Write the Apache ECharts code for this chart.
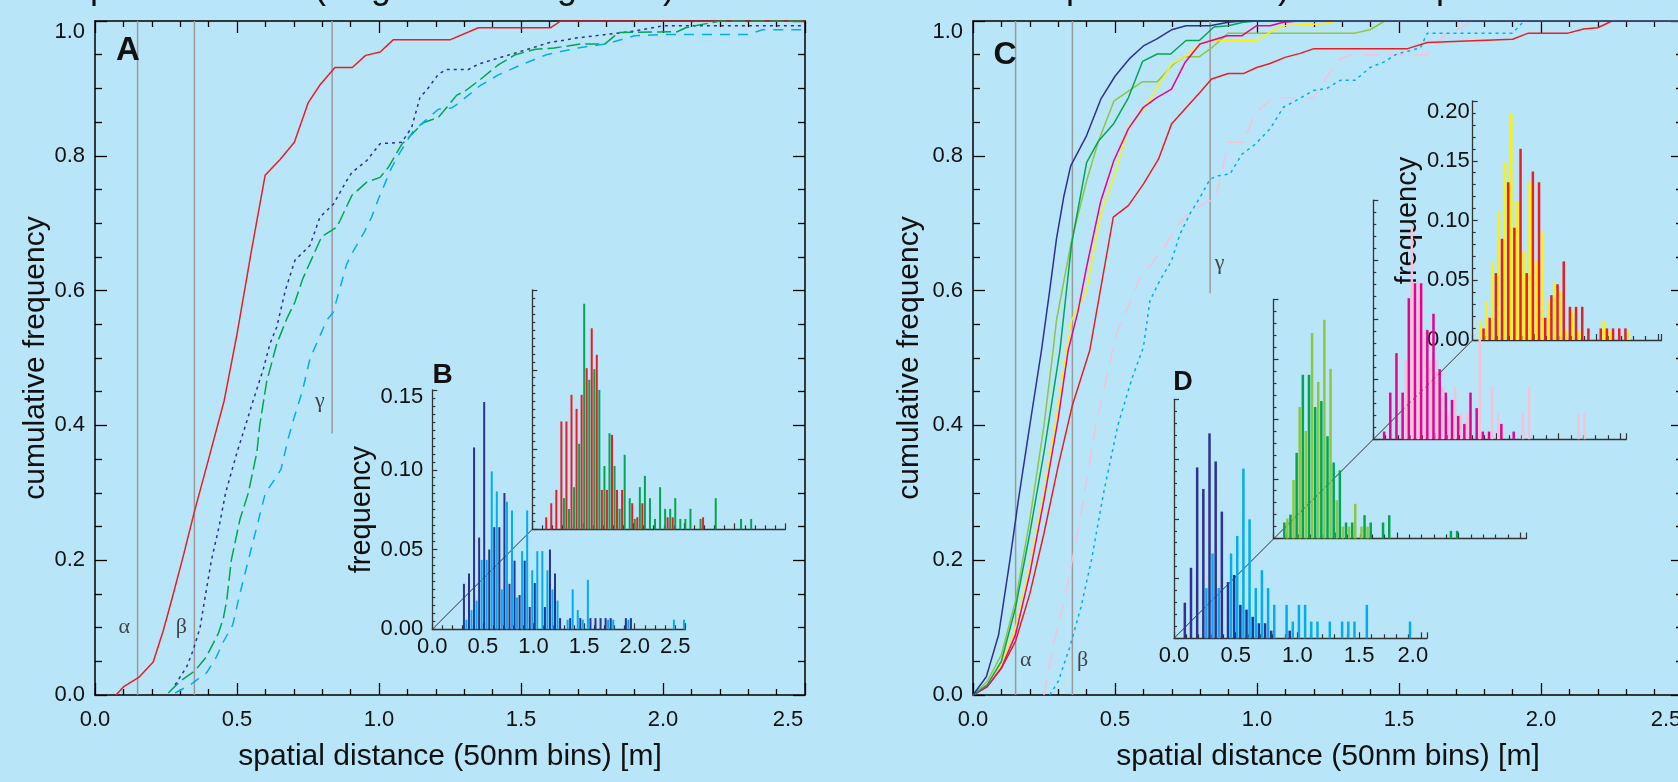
<!DOCTYPE html>
<html>
<head>
<meta charset="utf-8">
<script src="https://cdn.jsdelivr.net/npm/echarts@6/dist/echarts.min.js"></script>
<style>
html,body{margin:0;padding:0;background:#b9e5f9;}
#c{width:1678px;height:782px;}
</style>
</head>
<body>
<div id="c"></div>
<script>
// ---------------- DATA ----------------
const X_NAME = 'spatial distance (50nm bins) [m]';
const Y_NAME = 'cumulative frequency';
const INSET_Y_NAME = 'frequency';
const BIN = 0.05;

// Panel A cumulative curves [x, y]
const aRed = [[0.074,0.0],[0.10,0.012],[0.154,0.026],[0.205,0.049],[0.24,0.095],[0.27,0.141],[0.31,0.205],[0.35,0.272],[0.40,0.35],[0.455,0.437],[0.499,0.533],[0.552,0.662],[0.599,0.771],[0.651,0.794],[0.702,0.82],[0.751,0.879],[0.792,0.905],[0.845,0.931],[0.906,0.931],[0.953,0.949],[1.004,0.954],[1.05,0.972],[1.25,0.972],[1.35,0.99],[1.605,0.99],[1.64,1.0],[2.5,1.0]];
const aNavy = [[0.282,0.015],[0.323,0.042],[0.346,0.067],[0.37,0.10],[0.384,0.136],[0.41,0.2],[0.437,0.25],[0.46,0.3],[0.5,0.36],[0.53,0.4],[0.557,0.437],[0.593,0.484],[0.616,0.521],[0.64,0.546],[0.67,0.6],[0.704,0.645],[0.757,0.667],[0.792,0.709],[0.839,0.728],[0.886,0.763],[0.904,0.775],[0.957,0.793],[1.004,0.818],[1.08,0.82],[1.115,0.842],[1.144,0.886],[1.174,0.901],[1.209,0.921],[1.238,0.928],[1.315,0.928],[1.35,0.936],[1.42,0.945],[1.5,0.955],[1.6,0.968],[1.7,0.975],[1.8,0.98],[1.9,0.985],[2.0,0.993],[2.5,0.993]];
const aGreen = [[0.258,0.003],[0.299,0.02],[0.352,0.036],[0.391,0.056],[0.434,0.091],[0.452,0.114],[0.464,0.141],[0.48,0.2],[0.51,0.26],[0.54,0.3],[0.57,0.36],[0.58,0.4],[0.604,0.464],[0.64,0.521],[0.675,0.558],[0.704,0.583],[0.731,0.617],[0.765,0.649],[0.798,0.68],[0.851,0.694],[0.863,0.704],[0.904,0.741],[0.957,0.761],[1.004,0.768],[1.033,0.783],[1.08,0.817],[1.156,0.849],[1.209,0.857],[1.274,0.89],[1.303,0.896],[1.356,0.913],[1.42,0.935],[1.48,0.95],[1.551,0.958],[1.617,0.96],[1.712,0.966],[1.796,0.966],[1.844,0.983],[2.05,0.984],[2.08,0.99],[2.2,1.0],[2.5,1.0]];
const aCyan = [[0.282,0.003],[0.335,0.015],[0.393,0.033],[0.428,0.057],[0.452,0.079],[0.485,0.104],[0.51,0.15],[0.54,0.2],[0.57,0.25],[0.6,0.3],[0.625,0.315],[0.655,0.335],[0.68,0.38],[0.70,0.41],[0.731,0.452],[0.757,0.499],[0.816,0.556],[0.839,0.568],[0.886,0.639],[0.91,0.659],[0.951,0.689],[0.974,0.709],[0.998,0.736],[1.045,0.783],[1.074,0.805],[1.121,0.837],[1.209,0.869],[1.256,0.871],[1.274,0.876],[1.356,0.904],[1.42,0.92],[1.5,0.935],[1.59,0.95],[1.7,0.96],[1.8,0.966],[1.9,0.978],[2.0,0.98],[2.3,0.98],[2.35,0.987],[2.5,0.987]];

// Panel C cumulative curves [x, y]
const cNavy = [[0,0],[0.047,0.027],[0.09,0.089],[0.13,0.2],[0.16,0.29],[0.2,0.4],[0.241,0.511],[0.27,0.6],[0.294,0.677],[0.32,0.74],[0.344,0.785],[0.40,0.83],[0.45,0.884],[0.5,0.918],[0.553,0.945],[0.6,0.963],[0.646,0.973],[0.699,0.987],[0.75,0.993],[0.834,0.993],[0.899,0.998],[0.95,1.0],[2.5,1.0]];
const cGreen = [[0,0],[0.05,0.015],[0.1,0.05],[0.15,0.13],[0.2,0.24],[0.25,0.36],[0.306,0.511],[0.347,0.669],[0.40,0.79],[0.442,0.822],[0.496,0.848],[0.547,0.886],[0.597,0.94],[0.649,0.951],[0.696,0.951],[0.75,0.971],[0.797,0.971],[0.848,0.991],[0.899,0.993],[0.952,0.998],[1.0,1.0],[2.5,1.0]];
const cLightGreen = [[0,0],[0.05,0.02],[0.1,0.06],[0.15,0.14],[0.2,0.26],[0.25,0.4],[0.282,0.511],[0.294,0.556],[0.347,0.674],[0.40,0.763],[0.442,0.822],[0.496,0.881],[0.547,0.896],[0.597,0.91],[0.649,0.91],[0.705,0.936],[0.746,0.947],[0.797,0.947],[0.84,0.96],[0.899,0.982],[1.344,0.982],[1.398,0.987],[1.45,1.0],[2.5,1.0]];
const cYellow = [[0,0],[0.05,0.015],[0.1,0.045],[0.15,0.1],[0.2,0.19],[0.25,0.3],[0.3,0.43],[0.329,0.511],[0.347,0.556],[0.40,0.6],[0.45,0.714],[0.5,0.773],[0.547,0.842],[0.6,0.869],[0.646,0.899],[0.699,0.936],[0.75,0.948],[0.799,0.966],[0.847,0.971],[0.999,0.971],[1.052,0.985],[1.093,0.993],[1.233,0.996],[1.28,1.0],[2.5,1.0]];
const cMagenta = [[0,0],[0.05,0.012],[0.1,0.04],[0.15,0.09],[0.2,0.18],[0.25,0.29],[0.3,0.41],[0.335,0.511],[0.37,0.57],[0.40,0.635],[0.45,0.733],[0.496,0.793],[0.547,0.84],[0.6,0.872],[0.646,0.886],[0.699,0.899],[0.746,0.938],[0.799,0.966],[0.895,0.978],[0.946,0.978],[0.999,0.993],[1.046,0.993],[1.093,0.998],[1.15,1.0],[2.5,1.0]];
const cRed = [[0,0],[0.05,0.013],[0.1,0.04],[0.15,0.08],[0.2,0.15],[0.25,0.24],[0.3,0.34],[0.35,0.43],[0.411,0.511],[0.494,0.709],[0.547,0.726],[0.6,0.758],[0.653,0.795],[0.699,0.847],[0.752,0.872],[0.799,0.894],[0.84,0.914],[0.899,0.922],[0.952,0.922],[0.999,0.931],[1.046,0.937],[1.099,0.946],[1.152,0.952],[1.2,0.959],[1.53,0.959],[1.6,0.968],[1.9,0.973],[1.955,0.982],[2.095,0.982],[2.15,0.988],[2.2,0.99],[2.25,1.0],[2.5,1.0]];
const cPink = [[0.25,0.0],[0.285,0.078],[0.323,0.142],[0.38,0.268],[0.43,0.395],[0.48,0.49],[0.505,0.536],[0.55,0.58],[0.588,0.62],[0.617,0.634],[0.664,0.659],[0.729,0.701],[0.758,0.714],[0.828,0.733],[0.846,0.733],[0.864,0.753],[0.899,0.82],[0.952,0.82],[0.987,0.857],[1.017,0.872],[1.057,0.886],[1.198,0.886],[1.25,0.92],[1.287,0.943],[1.334,0.95],[1.6,0.95],[1.66,0.98],[1.72,0.99],[1.76,1.0],[2.5,1.0]];
const cCyan = [[0.27,0.0],[0.3,0.02],[0.34,0.07],[0.38,0.13],[0.417,0.2],[0.46,0.3],[0.51,0.4],[0.56,0.47],[0.6,0.516],[0.623,0.585],[0.658,0.615],[0.699,0.644],[0.729,0.684],[0.764,0.714],[0.799,0.738],[0.834,0.765],[0.858,0.77],[0.905,0.773],[0.946,0.802],[0.993,0.817],[1.046,0.84],[1.093,0.872],[1.146,0.884],[1.198,0.897],[1.246,0.9],[1.293,0.912],[1.345,0.912],[1.398,0.931],[1.446,0.939],[1.492,0.951],[1.539,0.956],[1.575,0.96],[1.6,0.982],[1.9,0.982],[1.94,1.0],[2.5,1.0]];

// Reference lines [x, yFrom, yTo] and their labels [text, x, y]
const refLinesA = [[0.15,0,1],[0.35,0,1],[0.835,0.388,1]];
const refLinesC = [[0.15,0,1],[0.35,0,1],[0.835,0.596,1]];
const refLabelsA = [['α',0.15,0.10],['β',0.35,0.10],['γ',0.835,0.436]];
const refLabelsC = [['α',0.15,0.052],['β',0.35,0.052],['γ',0.835,0.641]];

// Inset B histograms (frequency per 0.05 bin, bin index from 0)
const bNavy  = [0,0,0,0,0,0,0.0285,0.035,0.114,0.0575,0.1425,0.05,0.064,0.064,0.0854,0.0285,0.043,0.0215,0.043,0.014,0.029,0,0.014,0.05,0.035,0.007,0,0.007,0,0.007,0,0.007,0.007,0.007,0.007,0.007,0,0,0.007,0.007];
const bCyan  = [0,0,0,0,0,0,0.006,0.012,0.018,0.0435,0.0435,0.099,0.0864,0.025,0.08,0.0745,0.02,0.049,0.0745,0.037,0.049,0.049,0.037,0.025,0.018,0,0.006,0.025,0.012,0.006,0.031,0,0,0,0.006,0.006,0,0,0.006,0,0,0,0,0,0,0,0,0.006,0,0.006];
const bGreen = [0,0,0,0,0,0,0.0195,0.0128,0.0264,0.0536,0.1414,0.0937,0.1004,0.0874,0.0397,0.0602,0.0397,0.0128,0.0467,0.0195,0.0065,0.0264,0.0335,0.0195,0.0065,0.0264,0.0128,0.0128,0.0195,0.0065,0.0065,0.0128,0,0.0065,0,0,0.0195,0,0,0,0,0.0065,0,0.0065];
const bRed   = [0,0,0.0075,0.0163,0.0247,0.0676,0.0676,0.0843,0.0755,0.0843,0.101,0.126,0.1094,0.0247,0.0247,0.0592,0.0247,0.0247,0,0.0163,0.0075,0.0163,0,0,0,0,0.0075,0.0075,0,0,0,0,0,0.0075];

// Inset D histograms
const dCyan    = [0,0,0,0,0,0.042,0.071,0.042,0,0.071,0.0856,0.142,0.0996,0.042,0.057,0.042,0.028,0,0.028,0.014,0.028,0.028,0.014,0.014,0,0.014,0,0.014,0.014,0.014,0,0.028,0,0,0,0,0,0,0.014];
const dNavy    = [0,0.0298,0.059,0.143,0.125,0.1715,0.148,0.106,0.047,0.053,0.028,0.024,0.018,0.0126,0.0126,0.0064,0,0,0.0064];
const dLgreen  = [0,0,0.0167,0.049,0.11,0.09,0.172,0.131,0.183,0.142,0.032,0.01,0.01,0.029,0.01,0.01];
const dGreen   = [0,0.0134,0.02,0.0717,0.137,0.137,0.11,0.115,0.0856,0.0636,0.057,0.0134,0.0134,0,0.0195,0.0134,0,0.0134,0.0195,0,0,0,0,0,0,0,0,0,0.0064,0.0064];
const dPink    = [0,0,0,0,0,0.066,0.178,0.132,0.09,0.066,0.066,0.044,0.022,0.044,0.022,0.022,0,0.083,0,0.044,0.022,0,0,0,0.022,0.044,0,0,0,0,0,0,0,0.022,0.022];
const dMagenta = [0,0.0064,0.039,0.072,0.039,0.118,0.1305,0.1305,0.0915,0.105,0.0586,0.039,0.0329,0.0195,0.0128,0.039,0.026,0.0064,0.0064,0,0.0128,0,0.0064];
const dYellow  = [0,0.0161,0.0328,0.066,0.1075,0.1486,0.19,0.116,0.0744,0.132,0.066,0.091,0.0328,0.049,0.041,0.0078,0.0244,0.0078,0,0,0,0.0161,0.0078,0,0,0.0078];
const dRed     = [0,0.0097,0.0186,0.056,0.0847,0.132,0.094,0.16,0.056,0.141,0.132,0.0186,0.0375,0.0467,0.0658,0.0278,0.0278,0.0278,0.0097,0,0.0097,0.0097,0.0097,0.0097,0.0097];

// ---------------- LAYOUT / STYLE ----------------
const FONT = "'Liberation Sans', Arial, Helvetica, sans-serif";
const SERIF = "'Liberation Serif', 'DejaVu Serif', serif";
const TXT = '#111';
const COL = {red:'#ed1c24', navy:'#2e3192', green:'#00a651', cyan:'#00aeef', lgreen:'#8dc63f',
             yellow:'#fff200', magenta:'#ec008c', pink:'#f4c2d9', gray:'#9a9a9a'};
const G = {
  A:{left:95, top:21, width:710, height:674},
  C:{left:973, top:21, width:710, height:674},
  B1:{left:432.3, top:390, width:253, height:239.3},
  B2:{left:532.3, top:290, width:253, height:239.3},
  D1:{left:1174, top:399.3, width:253, height:239},
  D2:{left:1273.5, top:299.5, width:253, height:239},
  D3:{left:1373.3, top:200.2, width:253, height:239},
  D4:{left:1472.7, top:101, width:188.8, height:239}
};
const gridKeys = ['A','C','B1','B2','D1','D2','D3','D4'];
// axis index (same for x and y) used by each panel's series
const AX = {A:0, C:2, B1:4, B2:5, D1:6, D2:7, D3:8, D4:9};
const near = (a,b) => Math.abs(a-b) < 1e-6;

function mainX(gi, pos, nameGap) {
  const lab = pos === 'bottom';
  return {
    gridIndex: gi, type:'value', position: pos, min:0, max:2.5, interval:0.5,
    axisLine:{show:true, onZero:false, lineStyle:{color:'#000', width:1.5}},
    axisTick:{show:true, inside:true, length:12, lineStyle:{color:'#000', width:1.3}},
    minorTick:{show:true, splitNumber:5, length:6, lineStyle:{color:'#000', width:1.3}},
    splitLine:{show:false}, minorSplitLine:{show:false},
    axisLabel: lab ? {show:true, margin:14, fontSize:22, color:TXT, fontFamily:FONT,
      formatter: v => near(v,2.5) ? '{e|2.5}' : v.toFixed(1),
      rich:{e:{padding:[0,34,0,0], fontSize:22, color:TXT, fontFamily:FONT}}} : {show:false},
    name: lab ? X_NAME : '', nameLocation:'middle', nameGap: nameGap,
    nameTextStyle:{fontSize:30, color:TXT, fontFamily:FONT}
  };
}
function mainY(gi, pos, nameGap) {
  const lab = pos === 'left';
  return {
    gridIndex: gi, type:'value', position: pos, min:0, max:1, interval:0.2,
    axisLine:{show:true, onZero:false, lineStyle:{color:'#000', width:1.5}},
    axisTick:{show:true, inside:true, length:12, lineStyle:{color:'#000', width:1.3}},
    minorTick:{show:true, splitNumber:4, length:7, lineStyle:{color:'#000', width:1.3}},
    splitLine:{show:false}, minorSplitLine:{show:false},
    axisLabel: lab ? {show:true, margin:10, fontSize:22, color:TXT, fontFamily:FONT,
      formatter: v => near(v,1) ? '{t|1.0}' : v.toFixed(1),
      rich:{t:{padding:[22,0,0,0], fontSize:22, color:TXT, fontFamily:FONT}}} : {show:false},
    name: lab ? Y_NAME : '', nameLocation:'middle', nameGap: nameGap,
    nameTextStyle:{fontSize:30, color:TXT, fontFamily:FONT}
  };
}
function insetX(gi, max, labelEnd, labelPad) {
  const lab = labelEnd != null;
  return {
    gridIndex: gi, type:'value', position:'bottom', min:0, max:max, interval:0.5,
    axisLine:{show:true, onZero:false, lineStyle:{color:'#333', width:1.3}},
    axisTick:{show:true, inside:true, length:6, lineStyle:{color:'#333', width:1.2}},
    minorTick:{show:true, splitNumber:5, length:4, lineStyle:{color:'#333', width:1.2}},
    splitLine:{show:false}, minorSplitLine:{show:false},
    axisLabel: lab ? {show:true, margin:7, fontSize:22, color:TXT, fontFamily:FONT,
      formatter: v => v > labelEnd + 1e-6 ? '' : (near(v,labelEnd) ? '{e|'+v.toFixed(1)+'}' : v.toFixed(1)),
      rich:{e:{padding:[0,labelPad,0,0], fontSize:22, color:TXT, fontFamily:FONT}}} : {show:false}
  };
}
function insetY(gi, max, minorSplit, showLab, margin, topPad, nameGap) {
  return {
    gridIndex: gi, type:'value', position:'left', min:0, max:max, interval:0.05,
    axisLine:{show:true, onZero:false, lineStyle:{color:'#333', width:1.3}},
    axisTick:{show:true, inside:true, length:5, lineStyle:{color:'#333', width:1.2}},
    minorTick:{show:true, splitNumber:minorSplit, length:3, lineStyle:{color:'#333', width:1.2}},
    splitLine:{show:false}, minorSplitLine:{show:false},
    axisLabel: showLab ? {show:true, margin:margin, fontSize:22, color:TXT, fontFamily:FONT,
      formatter: v => near(v,max) ? '{t|'+v.toFixed(2)+'}' : v.toFixed(2),
      rich:{t:{padding:[topPad,0,0,0], fontSize:22, color:TXT, fontFamily:FONT}}} : {show:false},
    name: showLab ? INSET_Y_NAME : '', nameLocation:'middle', nameGap: nameGap || 50,
    nameTextStyle:{fontSize:29, color:TXT, fontFamily:FONT}
  };
}

const grids = gridKeys.map(k => Object.assign({containLabel:false, outerBoundsMode:'none'}, G[k]));

const xAxes = [
  mainX(0,'bottom',47), mainX(0,'top'),
  mainX(1,'bottom',47), mainX(1,'top'),
  insetX(2, 2.5, 2.5, 20), insetX(3, 2.5, null),
  insetX(4, 2.05, 2.0, 16), insetX(5, 2.05, null), insetX(6, 2.05, null), insetX(7, 1.53, null)
];
const yAxes = [
  mainY(0,'left',36), mainY(0,'right'),
  mainY(1,'left',48), mainY(1,'right'),
  insetY(2, 0.15, 10, true, 9, 14, 54), insetY(3, 0.15, 10, false),
  insetY(4, 0.2, 5, false), insetY(5, 0.2, 5, false), insetY(6, 0.2, 5, false),
  insetY(7, 0.2, 5, true, 3, 22, 47)
];

function line(data, color, dash, ai) {
  return {type:'line', data:data, xAxisIndex:ai, yAxisIndex:ai, showSymbol:false, symbol:'none',
    lineStyle:{color:color, width:1.5, type: dash || 'solid', cap:'butt'}, z:3, silent:true};
}
function refLine(r, ai) {
  return {type:'line', data:[[r[0],r[1]],[r[0],r[2]]], xAxisIndex:ai, yAxisIndex:ai, showSymbol:false,
    symbol:'none', lineStyle:{color:COL.gray, width:1.5}, z:1, silent:true};
}
function refLabels(list, ai, pos, dist) {
  return {type:'scatter', xAxisIndex:ai, yAxisIndex:ai, symbolSize:1, silent:true, z:4,
    itemStyle:{color:'rgba(0,0,0,0)'},
    data: list.map(r => ({value:[r[1], r[2]], label:{formatter:r[0]}})),
    label:{show:true, position:pos, distance:dist, fontSize:22, color:'#1a1a1a', fontFamily:SERIF}};
}
function toBars(arr) {
  return arr.map((v,i) => [i*BIN + BIN/2, v]).filter(d => d[1] > 0);
}
function bars(arr, color, ai, w) {
  return {type:'bar', data:toBars(arr), xAxisIndex:ai, yAxisIndex:ai, barWidth:w, barGap:'25%',
    itemStyle:{color:color}, z:2, silent:true};
}

const series = [];
refLinesA.forEach(r => series.push(refLine(r, AX.A)));
refLinesC.forEach(r => series.push(refLine(r, AX.C)));
series.push(refLabels(refLabelsA, AX.A, 'left', 7));
series.push(refLabels(refLabelsC, AX.C, 'right', 4));
// A
series.push(line(aRed, COL.red, null, AX.A));
series.push(line(aNavy, COL.navy, [3,4], AX.A));
series.push(line(aGreen, COL.green, [14,5], AX.A));
series.push(line(aCyan, COL.cyan, [10,8], AX.A));
// C
series.push(line(cPink, COL.pink, [16,10], AX.C));
series.push(line(cCyan, COL.cyan, [3,4], AX.C));
series.push(line(cRed, COL.red, null, AX.C));
series.push(line(cLightGreen, COL.lgreen, null, AX.C));
series.push(line(cYellow, COL.yellow, null, AX.C));
series.push(line(cMagenta, COL.magenta, null, AX.C));
series.push(line(cGreen, COL.green, null, AX.C));
series.push(line(cNavy, COL.navy, null, AX.C));
// B insets
series.push(bars(bNavy, COL.navy, AX.B1, 2));
series.push(bars(bCyan, COL.cyan, AX.B1, 2));
series.push(bars(bGreen, COL.green, AX.B2, 2));
series.push(bars(bRed, COL.red, AX.B2, 2));
// D insets
series.push(bars(dCyan, COL.cyan, AX.D1, 2.5));
series.push(bars(dNavy, COL.navy, AX.D1, 2.5));
series.push(bars(dLgreen, COL.lgreen, AX.D2, 2.5));
series.push(bars(dGreen, COL.green, AX.D2, 2.5));
series.push(bars(dPink, COL.pink, AX.D3, 2.5));
series.push(bars(dMagenta, COL.magenta, AX.D3, 2.5));
series.push(bars(dYellow, COL.yellow, AX.D4, 2.5));
series.push(bars(dRed, COL.red, AX.D4, 2.5));

function txt(t, x, y, size, bold, family) {
  return {type:'text', x:x, y:y, silent:true, z:10,
    style:{text:t, fill:TXT, fontSize:size, fontWeight: bold ? 'bold' : 'normal',
      fontFamily: family || FONT, align:'center', verticalAlign:'middle',
      textAlign:'center', textVerticalAlign:'middle'}};
}
function diag(g0, g1) {
  return {type:'line', silent:true, z:1,
    shape:{x1:g0.left, y1:g0.top + g0.height, x2:g1.left, y2:g1.top + g1.height},
    style:{stroke:'#333', lineWidth:1}};
}
// cut-off title glyphs at the very top edge of the picture
const titleGlyphs = [['p',100],['(',320],['g',381],['g',567],[')',669],['p',1076],[')',1284],['p',1446]];

const graphic = [
  txt('A', 128, 51, 33, true), txt('B', 442.5, 375, 28, true),
  txt('C', 1005, 55, 32, true), txt('D', 1183, 383, 27, true),
  diag(G.B1, G.B2), diag(G.D1, G.D4)
].concat(titleGlyphs.map(g => txt(g[0], g[1], -12, 36, false)));

const chart = echarts.init(document.getElementById('c'), null, {renderer:'canvas'});
chart.setOption({
  backgroundColor:'#b9e5f9',
  animation:false,
  textStyle:{fontFamily:FONT},
  grid: grids,
  xAxis: xAxes,
  yAxis: yAxes,
  series: series,
  graphic: graphic
});
</script>
</body>
</html>
